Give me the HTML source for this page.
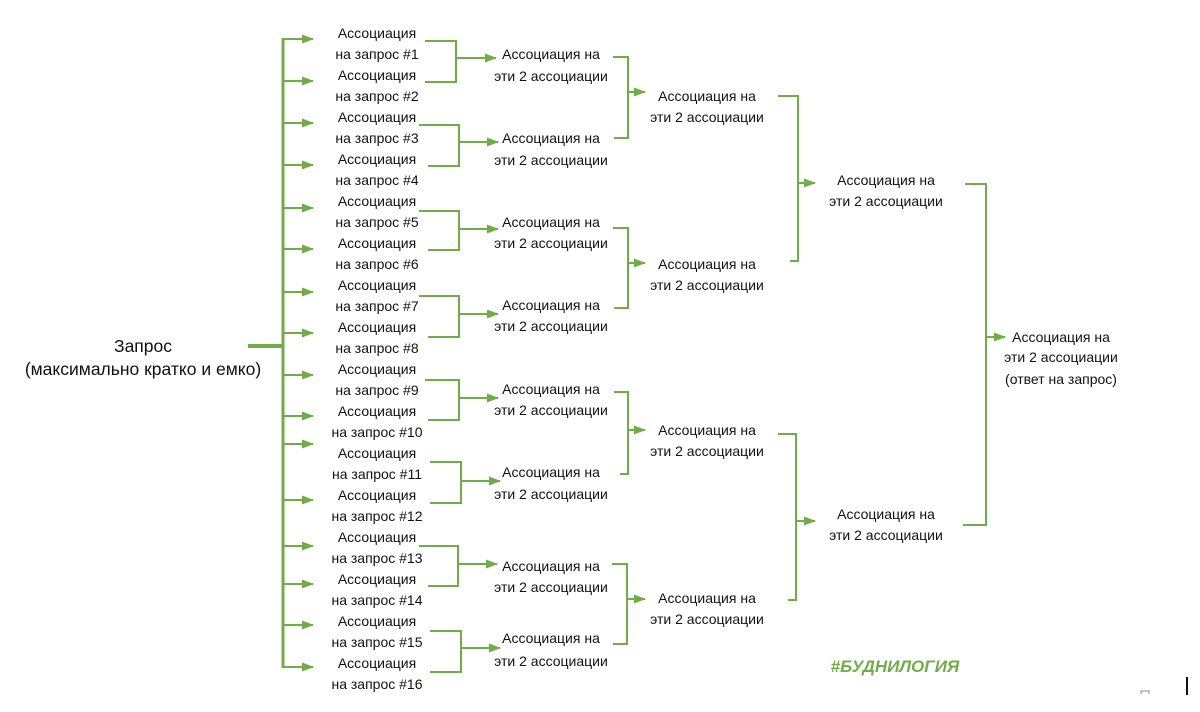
<!DOCTYPE html>
<html><head><meta charset="utf-8"><style>
html,body{margin:0;padding:0;background:#fff;}
svg{display:block;}
text{font-family:"Liberation Sans","DejaVu Sans",sans-serif;font-size:14px;fill:#111;text-anchor:middle;}
.g{fill:none;stroke:#70ad47;stroke-width:2;}
</style></head><body>
<svg width="1200" height="712" viewBox="0 0 1200 712" xmlns="http://www.w3.org/2000/svg">
<defs><marker id="a" markerUnits="userSpaceOnUse" markerWidth="12" markerHeight="12" refX="11" refY="6" orient="auto"><path d="M0,1.5 L12,6 L0,10.5 Z" fill="#70ad47"/></marker></defs>

<text x="143" y="352" style="font-size:17.5px">Запрос</text>
<text x="143" y="375" style="font-size:17.5px">(максимально кратко и емко)</text>
<line x1="248" y1="346" x2="284" y2="346" stroke="#70ad47" stroke-width="4"/>
<line x1="283" y1="38" x2="283" y2="668" stroke="#70ad47" stroke-width="3"/>

<g class="g" marker-end="url(#a)">
<path d="M283,39H313"/><path d="M283,81H313"/><path d="M283,123H313"/><path d="M283,165H313"/>
<path d="M283,208H313"/><path d="M283,249H313"/><path d="M283,292H313"/><path d="M283,333H313"/>
<path d="M283,375H313"/><path d="M283,416H313"/><path d="M283,444H313"/><path d="M283,500H313"/>
<path d="M283,546H313"/><path d="M283,584H313"/><path d="M283,625H313"/><path d="M283,667H313"/>
</g>

<g>
<text x="377" y="38">Ассоциация</text><text x="377" y="59">на запрос #1</text>
<text x="377" y="80">Ассоциация</text><text x="377" y="101">на запрос #2</text>
<text x="377" y="122">Ассоциация</text><text x="377" y="143">на запрос #3</text>
<text x="377" y="164">Ассоциация</text><text x="377" y="185">на запрос #4</text>
<text x="377" y="206">Ассоциация</text><text x="377" y="227">на запрос #5</text>
<text x="377" y="248">Ассоциация</text><text x="377" y="269">на запрос #6</text>
<text x="377" y="290">Ассоциация</text><text x="377" y="311">на запрос #7</text>
<text x="377" y="332">Ассоциация</text><text x="377" y="353">на запрос #8</text>
<text x="377" y="374">Ассоциация</text><text x="377" y="395">на запрос #9</text>
<text x="377" y="416">Ассоциация</text><text x="377" y="437">на запрос #10</text>
<text x="377" y="458">Ассоциация</text><text x="377" y="479">на запрос #11</text>
<text x="377" y="500">Ассоциация</text><text x="377" y="521">на запрос #12</text>
<text x="377" y="542">Ассоциация</text><text x="377" y="563">на запрос #13</text>
<text x="377" y="584">Ассоциация</text><text x="377" y="605">на запрос #14</text>
<text x="377" y="626">Ассоциация</text><text x="377" y="647">на запрос #15</text>
<text x="377" y="668">Ассоциация</text><text x="377" y="689">на запрос #16</text>
</g>

<g class="g">
<path d="M425,41H456V82H425"/><path d="M419,125H459V166H428"/>
<path d="M419,211H459V250H428"/><path d="M419,296H459V337H428"/>
<path d="M425,380H459V420H428"/><path d="M430,462H461V503H430"/>
<path d="M419,546H458V586H428"/><path d="M430,631H461V672H430"/>
</g>
<g class="g" marker-end="url(#a)">
<path d="M456,58H496"/><path d="M459,142H498"/><path d="M459,229H498"/><path d="M459,314H498"/>
<path d="M459,398H498"/><path d="M461,481H500"/><path d="M458,564H497"/><path d="M461,648H500"/>
</g>

<g>
<text x="551" y="59">Ассоциация на</text><text x="551" y="81">эти 2 ассоциации</text>
<text x="551" y="143">Ассоциация на</text><text x="551" y="165">эти 2 ассоциации</text>
<text x="551" y="227">Ассоциация на</text><text x="551" y="248">эти 2 ассоциации</text>
<text x="551" y="310">Ассоциация на</text><text x="551" y="331">эти 2 ассоциации</text>
<text x="551" y="394">Ассоциация на</text><text x="551" y="415">эти 2 ассоциации</text>
<text x="551" y="477">Ассоциация на</text><text x="551" y="499">эти 2 ассоциации</text>
<text x="551" y="571">Ассоциация на</text><text x="551" y="592">эти 2 ассоциации</text>
<text x="551" y="643">Ассоциация на</text><text x="551" y="666">эти 2 ассоциации</text>
</g>

<g class="g">
<path d="M613,57H628V138H614"/><path d="M613,228H628V308H614"/>
<path d="M614,392H628V474H620"/><path d="M612,564H627V644H613"/>
</g>
<g class="g" marker-end="url(#a)">
<path d="M628,92H645"/><path d="M628,263H645"/><path d="M628,430H645"/><path d="M627,599H645"/>
</g>

<g>
<text x="707" y="101">Ассоциация на</text><text x="707" y="122">эти 2 ассоциации</text>
<text x="707" y="269">Ассоциация на</text><text x="707" y="290">эти 2 ассоциации</text>
<text x="707" y="435">Ассоциация на</text><text x="707" y="456">эти 2 ассоциации</text>
<text x="707" y="603">Ассоциация на</text><text x="707" y="624">эти 2 ассоциации</text>
</g>

<g class="g">
<path d="M778,96H798V261H790"/><path d="M778,434H796V600H788"/>
</g>
<g class="g" marker-end="url(#a)">
<path d="M798,183H815"/><path d="M796,521H815"/>
</g>

<g>
<text x="886" y="185">Ассоциация на</text><text x="886" y="206">эти 2 ассоциации</text>
<text x="886" y="519">Ассоциация на</text><text x="886" y="540">эти 2 ассоциации</text>
</g>

<g class="g">
<path d="M965,184H986V525H963"/>
</g>
<path class="g" d="M986,337H1005" marker-end="url(#a)"/>

<g>
<text x="1061" y="342">Ассоциация на</text>
<text x="1061" y="362">эти 2 ассоциации</text>
<text x="1061" y="384">(ответ на запрос)</text>
</g>

<text x="895" y="672" style="font-size:17px;font-style:italic;font-weight:bold;fill:#70ad47">#БУДНИЛОГИЯ</text>
<path d="M1141,694V691H1149V694" fill="none" stroke="#888" stroke-width="1"/>
<rect x="1186" y="677" width="2" height="18" fill="#111"/>
</svg>
</body></html>
